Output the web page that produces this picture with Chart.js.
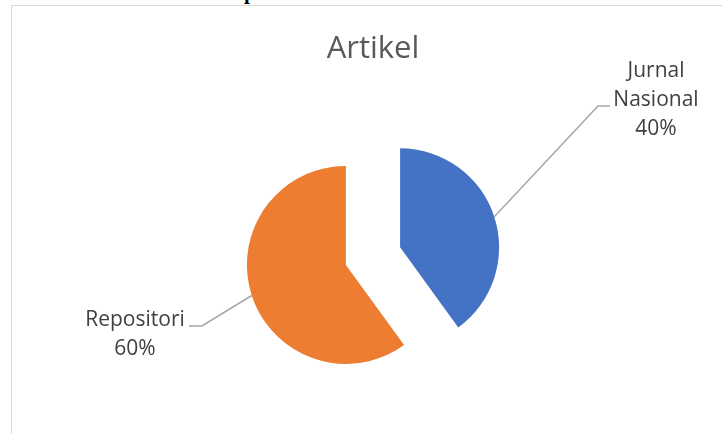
<!DOCTYPE html>
<html>
<head>
<meta charset="utf-8">
<script src="https://cdn.jsdelivr.net/npm/chart.js@4.4.0/dist/chart.umd.min.js"></script>
<style>
  html, body { margin: 0; padding: 0; background: #fff; overflow: hidden; }
  #wrap { position: relative; width: 722px; height: 434px; overflow: hidden; }
  #above { position: absolute; left: 244px; top: -18px; font: bold 21px "Liberation Serif"; line-height: 21px; color: #000; }
  #frame { position: absolute; left: 11px; top: 5px; width: 760px; height: 480px; border-left: 1.5px solid #d9d9d9; border-top: 1.5px solid #d9d9d9; }
  canvas { position: absolute; left: 0; top: 0; }
</style>
</head>
<body>
<div id="wrap">
  <div id="above">p</div>
  <div id="frame"></div>
  <canvas id="pieChart" width="722" height="434"></canvas>
</div>
<script>
const categories = ['Jurnal Nasional', 'Repositori'];
const values = [40, 60];
const colors = ['#4472c4', '#ed7d31'];

const explode = 28.5;
// where the data labels sit (text centre x, first baseline y) and their leader elbows
const labelLayout = [
    { x: 656, y: 77, lineY: 106, elbowX: 598, endX: 610 },
    { x: 135, y: 326, lineY: 326, elbowX: 202, endX: 189 }
];

const total = values.reduce((a, b) => a + b, 0);

const explodePlugin = {
    id: 'explode',
    afterDatasetsUpdate(chart) {
        const area = chart.chartArea;
        const cx = (area.left + area.right) / 2;
        const cy = (area.top + area.bottom) / 2;
        chart.getDatasetMeta(0).data.forEach(arc => {
            const mid = (arc.startAngle + arc.endAngle) / 2;
            arc.x = cx + Math.cos(mid) * explode;
            arc.y = cy + Math.sin(mid) * explode;
        });
    }
};

const labelPlugin = {
    id: 'sliceLabels',
    afterDatasetsDraw(chart) {
        const ctx = chart.ctx;
        ctx.save();
        chart.getDatasetMeta(0).data.forEach((arc, i) => {
            const pos = labelLayout[i];
            const mid = (arc.startAngle + arc.endAngle) / 2;
            const sx = arc.x + Math.cos(mid) * arc.outerRadius;
            const sy = arc.y + Math.sin(mid) * arc.outerRadius;

            ctx.strokeStyle = '#a6a6a6';
            ctx.lineWidth = 1.5;
            ctx.beginPath();
            ctx.moveTo(sx, sy);
            ctx.lineTo(pos.elbowX, pos.lineY);
            ctx.lineTo(pos.endX, pos.lineY);
            ctx.stroke();

            const pct = Math.round(values[i] / total * 100) + '%';
            const lines = categories[i].split(' ').concat([pct]);
            ctx.fillStyle = '#404040';
            ctx.font = '21px "Open Sans"';
            ctx.textAlign = 'center';
            ctx.textBaseline = 'alphabetic';
            lines.forEach((line, k) => {
                ctx.fillText(line, pos.x, pos.y + k * 29);
            });
        });
        ctx.restore();
    }
};

new Chart(document.getElementById('pieChart').getContext('2d'), {
    type: 'pie',
    data: {
        labels: categories,
        datasets: [{
            data: values,
            backgroundColor: colors,
            borderWidth: 0,
            radius: 99
        }]
    },
    options: {
        responsive: false,
        animation: false,
        events: [],
        layout: { padding: { left: 24, right: 0, top: 0, bottom: 0 } },
        plugins: {
            legend: { display: false },
            tooltip: { enabled: false },
            title: {
                display: true,
                text: 'Artikel',
                color: '#595959',
                font: { family: 'Open Sans', size: 31, weight: 'normal' },
                padding: { top: 31, bottom: 10 }
            }
        }
    },
    plugins: [explodePlugin, labelPlugin]
});
</script>
</body>
</html>
